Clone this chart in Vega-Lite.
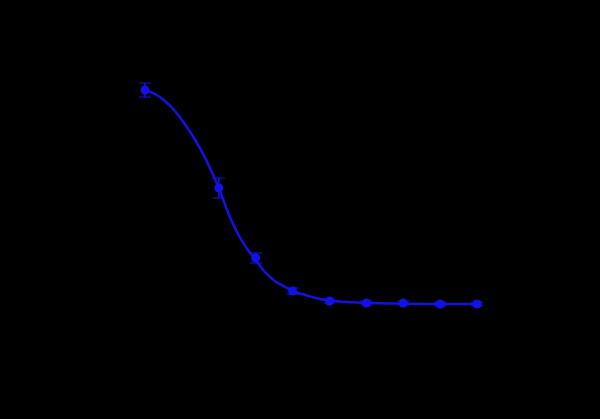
{
  "$schema": "https://vega.github.io/schema/vega-lite/v6.json",
  "width": 600,
  "height": 419,
  "autosize": {"type": "fit", "contains": "padding"},
  "padding": 0,
  "background": "black",
  "config": {"view": {"stroke": null}},
  "datasets": {
    "points": [
      {"dose": 1, "signal": 2.40, "lo": 2.33, "hi": 2.47},
      {"dose": 3, "signal": 1.42, "lo": 1.32, "hi": 1.52},
      {"dose": 4, "signal": 0.72, "lo": 0.67, "hi": 0.77},
      {"dose": 5, "signal": 0.39, "lo": 0.36, "hi": 0.42},
      {"dose": 6, "signal": 0.29, "lo": 0.27, "hi": 0.31},
      {"dose": 7, "signal": 0.27, "lo": 0.25, "hi": 0.29},
      {"dose": 8, "signal": 0.27, "lo": 0.25, "hi": 0.29},
      {"dose": 9, "signal": 0.26, "lo": 0.24, "hi": 0.28},
      {"dose": 10, "signal": 0.26, "lo": 0.24, "hi": 0.28}
    ],
    "fit": [
      {"dose": 1.0, "signal": 2.40},
      {"dose": 1.27, "signal": 2.36},
      {"dose": 1.54, "signal": 2.29},
      {"dose": 1.81, "signal": 2.19},
      {"dose": 2.08, "signal": 2.06},
      {"dose": 2.36, "signal": 1.90},
      {"dose": 2.63, "signal": 1.72},
      {"dose": 2.82, "signal": 1.57},
      {"dose": 3.0, "signal": 1.42},
      {"dose": 3.17, "signal": 1.25},
      {"dose": 3.36, "signal": 1.08},
      {"dose": 3.58, "signal": 0.92},
      {"dose": 3.79, "signal": 0.80},
      {"dose": 4.0, "signal": 0.70},
      {"dose": 4.25, "signal": 0.58},
      {"dose": 4.52, "signal": 0.49},
      {"dose": 4.8, "signal": 0.43},
      {"dose": 5.0, "signal": 0.39},
      {"dose": 5.34, "signal": 0.35},
      {"dose": 5.74, "signal": 0.31},
      {"dose": 6.29, "signal": 0.285},
      {"dose": 7.1, "signal": 0.27},
      {"dose": 7.91, "signal": 0.265},
      {"dose": 9.0, "signal": 0.26},
      {"dose": 10.0, "signal": 0.26}
    ]
  },
  "encoding": {
    "x": {
      "field": "dose",
      "type": "quantitative",
      "scale": {"domain": [-2.93, 13.33], "nice": false, "zero": false},
      "axis": null
    },
    "y": {
      "field": "signal",
      "type": "quantitative",
      "scale": {"domain": [-0.89, 3.30], "nice": false, "zero": false},
      "axis": null
    }
  },
  "layer": [
    {
      "data": {"name": "fit"},
      "mark": {"type": "line", "color": "#1212e8", "strokeWidth": 2.5, "interpolate": "monotone"}
    },
    {
      "data": {"name": "points"},
      "mark": {"type": "errorbar", "color": "#1212e8", "thickness": 1.5, "ticks": {"size": 12, "color": "#1212e8"}},
      "encoding": {
        "y": {"field": "lo", "type": "quantitative"},
        "y2": {"field": "hi"}
      }
    },
    {
      "data": {"name": "points"},
      "mark": {"type": "point", "shape": "circle", "filled": true, "opacity": 1, "size": 80, "color": "#1212e8"}
    }
  ]
}
